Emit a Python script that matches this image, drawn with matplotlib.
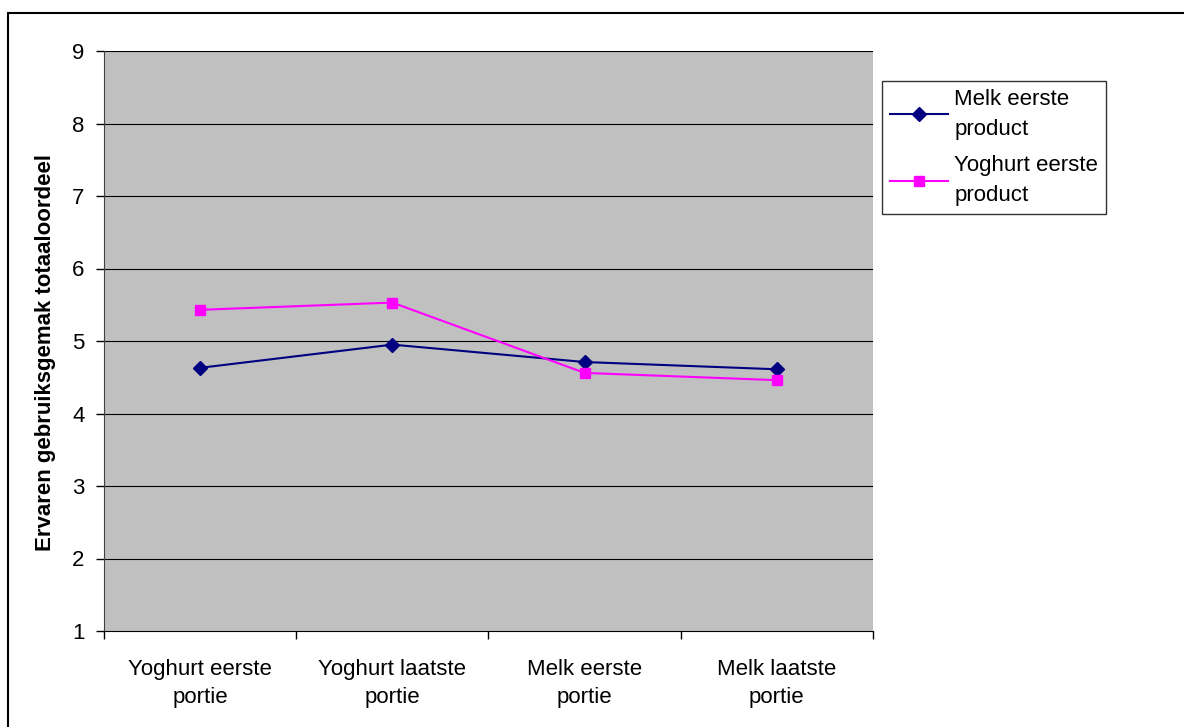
import matplotlib.pyplot as plt
from matplotlib.patches import Rectangle

plt.rcParams['font.family'] = ['Liberation Sans', 'DejaVu Sans']

categories = ["Yoghurt eerste\nportie", "Yoghurt laatste\nportie", "Melk eerste\nportie", "Melk laatste\nportie"]
melk_eerst = [4.63, 4.95, 4.71, 4.61]
yoghurt_eerst = [5.43, 5.53, 4.56, 4.46]
series_names = ["Melk eerste\nproduct", "Yoghurt eerste\nproduct"]
y_ticks = [1, 2, 3, 4, 5, 6, 7, 8, 9]

fig = plt.figure(figsize=(11.84, 7.27), dpi=100)
fig.patch.set_facecolor('white')

# outer chart border (cut off at right/bottom like the reference)
fig.add_artist(Rectangle((8 / 1184, -0.1), 1.5, 1.1 - 13 / 727, transform=fig.transFigure,
                         fill=False, edgecolor='black', linewidth=1.5))

ax = fig.add_axes([104 / 1184, 1 - 631 / 727, (873 - 104) / 1184, (631 - 51) / 727])
ax.set_facecolor('#c0c0c0')

x = list(range(len(categories)))
l1, = ax.plot(x, melk_eerst, color='#000080', marker='D', markersize=7.5, linewidth=1.5,
              label=series_names[0])
l2, = ax.plot(x, yoghurt_eerst, color='#ff00ff', marker='s', markersize=7.5, linewidth=1.5,
              label=series_names[1])

ax.set_xlim(-0.5, len(categories) - 0.5)
ax.set_ylim(1, 9)
ax.set_yticks(y_ticks)
ax.tick_params(axis='y', direction='out', length=6, width=1, labelsize=16, pad=8)
for yv in y_ticks[1:]:
    ax.axhline(yv, color='black', linewidth=0.8, zorder=1)

ax.set_xticks([i + 0.5 for i in range(-1, len(categories))])
ax.set_xticklabels([])
ax.set_xticks(x, minor=True)
ax.set_xticklabels(categories, minor=True, fontsize=16, linespacing=1.45)
ax.tick_params(axis='x', which='major', direction='out', length=6, width=1)
ax.tick_params(axis='x', which='minor', length=0, pad=20)

for side in ['top', 'right']:
    ax.spines[side].set_visible(False)
ax.spines['left'].set_color('#404040')
ax.spines['bottom'].set_color('black')

ax.set_ylabel("Ervaren gebruiksgemak totaaloordeel", fontsize=16, fontweight='bold')
ax.yaxis.set_label_coords(-0.062, 0.48)

leg = fig.legend(handles=[l1, l2], loc='upper left', bbox_to_anchor=(882 / 1184, 1 - 81 / 727),
                 fontsize=16, frameon=True, fancybox=False, edgecolor='black',
                 handlelength=2.6, borderpad=0.35, labelspacing=0.7, handletextpad=0.3,
                 markerscale=0.9, borderaxespad=0)
leg.get_frame().set_linewidth(1)
for t in leg.get_texts():
    t.set_linespacing(1.55)

fig.savefig('out.png', dpi=100)
